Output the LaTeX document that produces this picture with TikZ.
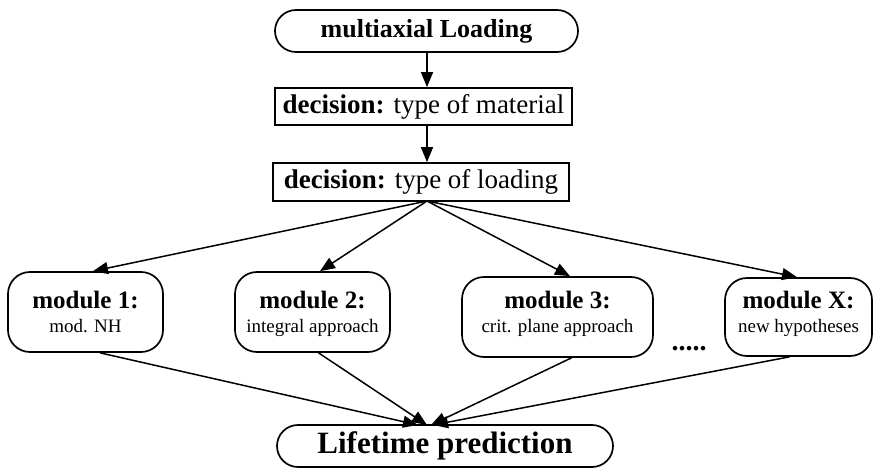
\documentclass[tikz,border=0pt]{standalone}
\usepackage{fontspec}
\setmainfont{Liberation Serif}
\usetikzlibrary{arrows.meta,shapes.misc}
\begin{document}
\begin{tikzpicture}[x=1pt,y=1pt,
  stadium/.style={rounded rectangle, draw, line width=1.7pt, inner sep=0pt},
  decbox/.style={rectangle, draw, line width=1.7pt, inner sep=0pt, font=\fontsize{27}{30}\selectfont},
  modbox/.style={rectangle, draw, line width=1.7pt, rounded corners=22pt, inner sep=0pt, minimum height=80pt},
  modtext/.style={inner sep=0pt, align=center, font=\fontsize{19}{24}\selectfont},
  arr/.style={line width=1.5pt, -{Triangle[length=15pt,width=12pt]}}
]
\useasboundingbox (0,0) rectangle (873,469);
\fill[white] (0,0) rectangle (873,469);

\node[stadium, minimum width=303pt, minimum height=42pt, font=\fontsize{26}{30}\selectfont\bfseries] (top) at (426.5,438) {multiaxial Loading};
\node[decbox, minimum width=297pt, minimum height=37pt] (mat) at (423.5,362.5) {\textbf{decision:} type of material};
\node[decbox, minimum width=296pt, minimum height=38pt] (load) at (421,287) {\textbf{decision:} type of loading};

\node[modbox, minimum width=155pt] (m1) at (85.5,157) {};
\node[modbox, minimum width=155pt] (m2) at (312.5,157) {};
\node[modbox, minimum width=191pt] (m3) at (557.5,152) {};
\node[modbox, minimum width=147pt, minimum height=78pt] (mX) at (798.5,152) {};

\node[modtext] (m1t) at (m1.center |- 0,155.5) {{\fontsize{25}{24}\selectfont\bfseries module 1:}\\mod. NH\vphantom{p}};
\node[modtext] (m2t) at (m2.center |- 0,155.5) {{\fontsize{25}{24}\selectfont\bfseries module 2:}\\integral approach};
\node[modtext] (m3t) at (m3.center |- 0,155.5) {{\fontsize{25}{24}\selectfont\bfseries module 3:}\\crit. plane approach};
\node[modtext] (mXt) at (mX.center |- 0,155.5) {{\fontsize{25}{24}\selectfont\bfseries module X:}\\new hypotheses};

\node[font=\fontsize{28}{30}\selectfont\bfseries, anchor=base, inner sep=0pt] (dots) at (689,118) {.....};

\node[stadium, minimum width=336pt, minimum height=42pt, font=\fontsize{31}{34}\selectfont\bfseries] (life) at (445,23) {Lifetime prediction};

\coordinate (fan) at (427,268);
\draw[arr] (top.south -| fan) -- (mat.north -| fan);
\draw[arr] (mat.south -| fan) -- (load.north -| fan);

\draw[arr] (fan) -- ([xshift=7.5pt]m1.north);
\draw[arr] (fan) -- ([xshift=7.5pt]m2.north);
\draw[arr] (fan) -- ([xshift=12.5pt]m3.north);
\draw[arr] (fan) -- ([xshift=-1.5pt]mX.north);

\coordinate (t1) at (418,44);
\coordinate (t2) at (427,44);
\coordinate (t3) at (431,44);
\coordinate (t4) at (433,44);
\draw[arr] ([xshift=14.5pt]m1.south) -- (t1);
\draw[arr] ([xshift=6pt]m2.south) -- (t2);
\draw[arr] ([xshift=14pt]m3.south) -- (t3);
\draw[arr] ([xshift=-9pt]mX.south) -- (t4);
\end{tikzpicture}
\end{document}
